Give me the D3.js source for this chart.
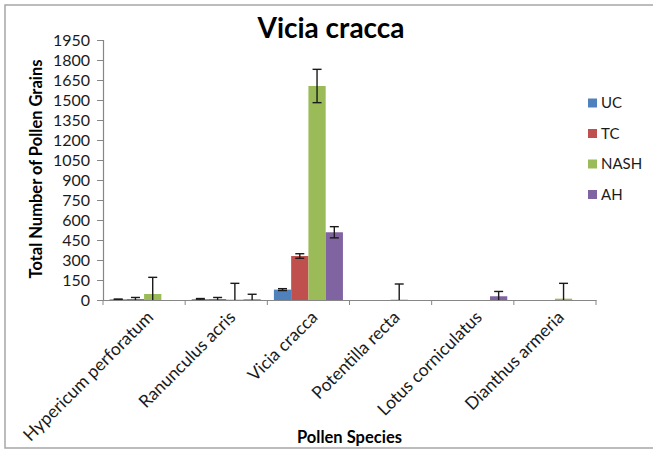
<!DOCTYPE html>
<html><head><meta charset="utf-8">
<script src="https://cdn.jsdelivr.net/npm/d3@7"></script>
<style>body{margin:0;background:#fff}svg{display:block}</style>
</head><body>
<script>
const categories = ["Hypericum perforatum","Ranunculus acris","Vicia cracca","Potentilla recta","Lotus corniculatus","Dianthus armeria"];
const seriesNames = ["UC","TC","NASH","AH"];
const colors = ["#4F81BD","#C0504D","#9BBB59","#8064A2"];
const ucValues   = [5, 6, 78, 0, 0, 0];
const ucErrors   = [2, 5, 7, 0, 0, 0];
const tcValues   = [7, 7, 330, 0, 0, 0];
const tcErrors   = [12, 12, 17, 0, 0, 0];
const nashValues = [45, 3, 1605, 3, 0, 10];
const nashErrors = [125, 122, 125, 117, 0, 115];
const ahValues   = [0, 5, 508, 0, 28, 0];
const ahErrors   = [0, 38, 42, 0, 36, 0];
const yTicks = [0,150,300,450,600,750,900,1050,1200,1350,1500,1650,1800,1950];

const values = [ucValues, tcValues, nashValues, ahValues];
const errors = [ucErrors, tcErrors, nashErrors, ahErrors];

(function(){
const W = 653, H = 450;
const svg = d3.select("body").append("svg").attr("width", W).attr("height", H);
const font = "Lato, 'Open Sans', sans-serif";

svg.append("rect").attr("x",5).attr("y",5).attr("width",W).attr("height",443)
  .attr("fill","#fff").attr("stroke","#a6a6a6").attr("stroke-width",1.5);

const pl = 103, pr = 596, pt = 40, pb = 300;
const x = d3.scaleBand().domain(categories).range([pl, pr]).paddingInner(0).paddingOuter(0);
const xs = d3.scaleBand().domain(seriesNames).range([0, x.bandwidth()]).paddingOuter(0.38).paddingInner(0);
const y = d3.scaleLinear().domain([0, 1950]).range([pb, pt]);

seriesNames.forEach((s, si) => {
  svg.append("g").selectAll("rect").data(categories).join("rect")
    .attr("x", c => x(c) + xs(s))
    .attr("width", xs.bandwidth())
    .attr("y", (c, i) => y(values[si][i]))
    .attr("height", (c, i) => y(0) - y(values[si][i]))
    .attr("fill", colors[si]);
});

seriesNames.forEach((s, si) => {
  categories.forEach((c, i) => {
    const e = errors[si][i];
    if (!e) return;
    const v = values[si][i];
    const cx = x(c) + xs(s) + xs.bandwidth() / 2;
    const hi = v + e, lo = Math.max(0, v - e);
    const g = svg.append("g").attr("stroke", "#1a1a1a").attr("stroke-width", 1.4);
    g.append("line").attr("x1", cx).attr("x2", cx).attr("y1", y(hi)).attr("y2", y(lo));
    g.append("line").attr("x1", cx - 4.5).attr("x2", cx + 4.5).attr("y1", y(hi)).attr("y2", y(hi));
    if (v - e >= 0) g.append("line").attr("x1", cx - 4.5).attr("x2", cx + 4.5).attr("y1", y(lo)).attr("y2", y(lo));
  });
});

const yAxis = svg.append("g").attr("transform", `translate(${pl},0)`)
  .call(d3.axisLeft(y).tickValues(yTicks).tickSize(6).tickPadding(7).tickFormat(d3.format("d")));
yAxis.select(".domain").attr("stroke", "#868686").attr("stroke-width", 1.2);
yAxis.selectAll(".tick line").attr("stroke", "#868686");
yAxis.selectAll("text").attr("font-family", font).attr("font-size", 16).attr("fill", "#1a1a1a");

const xAxis = svg.append("g").attr("transform", `translate(0,${pb})`)
  .call(d3.axisBottom(x).tickSize(0).tickFormat(""));
xAxis.select(".domain").attr("stroke", "#868686").attr("stroke-width", 1.2);
const bounds = categories.map(c => x(c)).concat([pr]);
xAxis.selectAll(".sep").data(bounds).join("line").attr("class","sep")
  .attr("x1", d => d).attr("x2", d => d).attr("y1", 0).attr("y2", 5).attr("stroke", "#868686");
xAxis.selectAll(".lbl").data(categories).join("text").attr("class","lbl")
  .attr("transform", c => `translate(${x(c) + x.bandwidth()/2 + 6},${14}) rotate(-45)`)
  .attr("text-anchor", "end").attr("dy", "0.35em")
  .attr("font-family", font).attr("font-size", 17.5).attr("fill", "#1a1a1a")
  .text(c => c);

svg.append("text").attr("x", 331).attr("y", 38).attr("text-anchor", "middle")
  .attr("font-family", font).attr("font-weight", "bold").attr("font-size", 28).attr("fill", "#000")
  .text("Vicia cracca");
svg.append("text").attr("transform", `translate(42,${(pt+pb)/2 - 1}) rotate(-90)`)
  .attr("text-anchor", "middle")
  .attr("font-family", font).attr("font-weight", "bold").attr("font-size", 16.5).attr("fill", "#000")
  .text("Total Number of Pollen Grains");
svg.append("text").attr("x", (pl+pr)/2).attr("y", 443).attr("text-anchor", "middle")
  .attr("font-family", font).attr("font-weight", "bold").attr("font-size", 16.5).attr("fill", "#000")
  .text("Pollen Species");

const lg = svg.append("g");
seriesNames.forEach((s, i) => {
  const ly = 103 + i * 30.5;
  lg.append("rect").attr("x", 588).attr("y", ly - 4.5).attr("width", 9).attr("height", 9).attr("fill", colors[i]);
  lg.append("text").attr("x", 601).attr("y", ly).attr("dy", "0.36em")
    .attr("font-family", font).attr("font-size", 15).attr("fill", "#1a1a1a").text(s);
});
})();
</script>
</body></html>
